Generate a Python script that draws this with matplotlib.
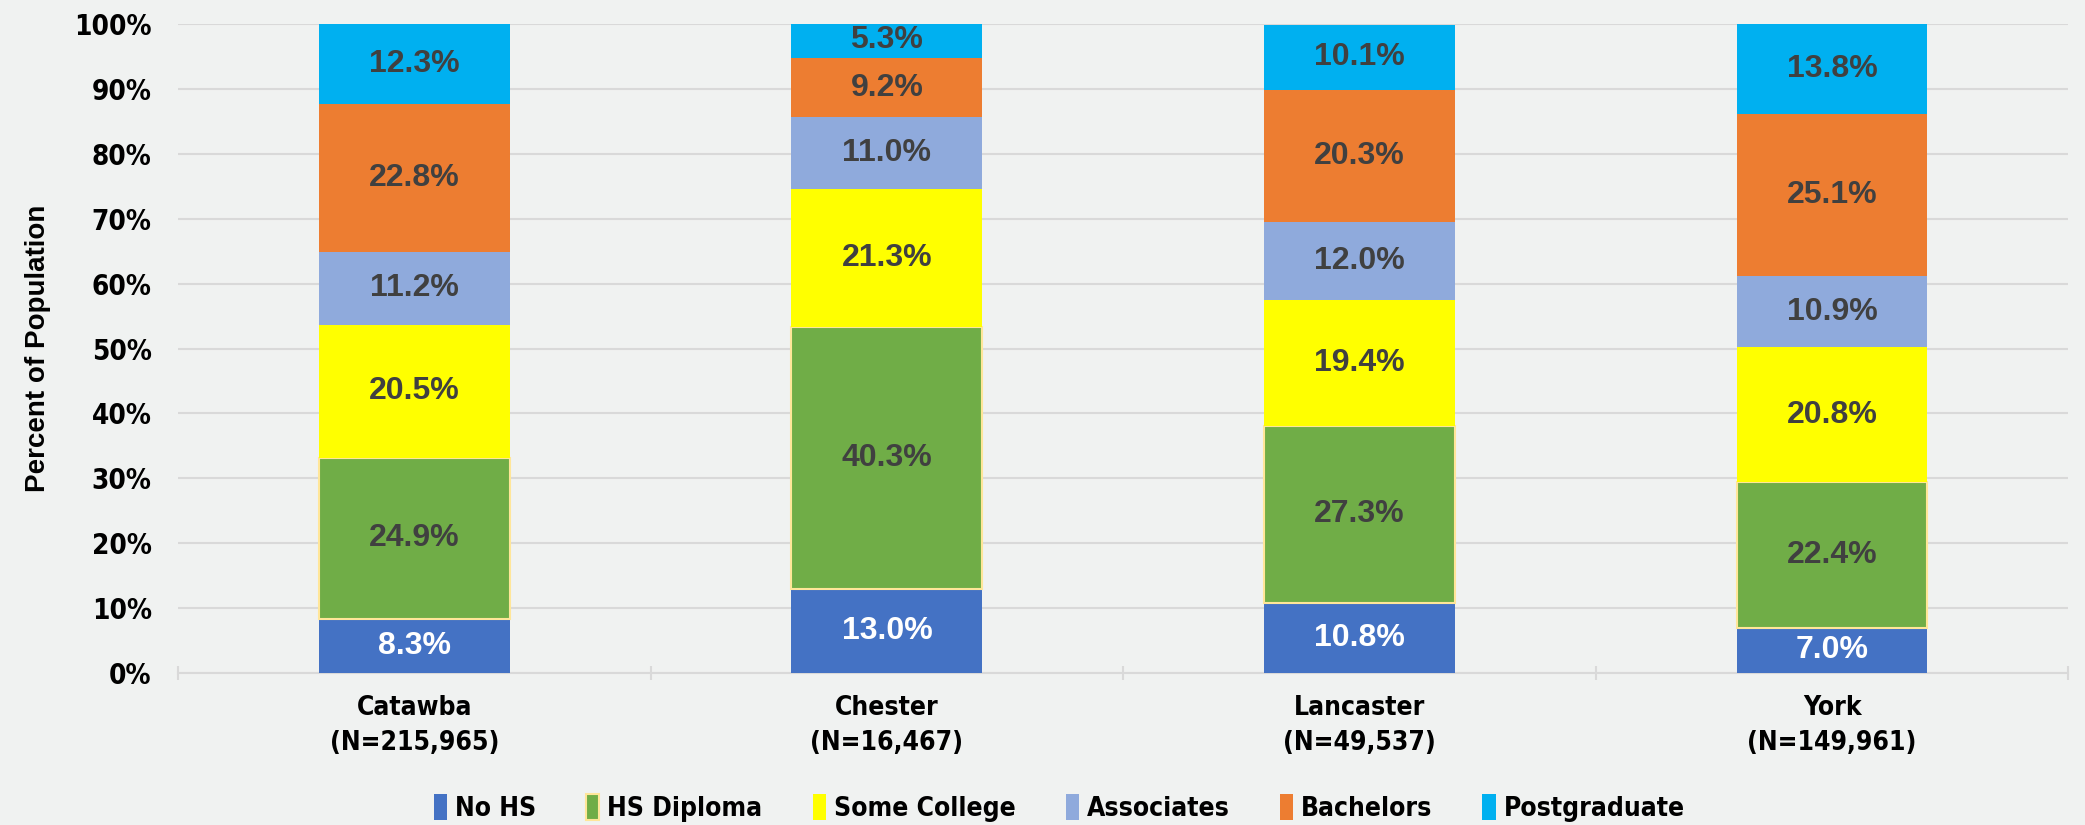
import matplotlib
matplotlib.use("Agg")
import matplotlib.pyplot as plt
import numpy as np

counties = ["Catawba\n(N=215,965)", "Chester\n(N=16,467)", "Lancaster\n(N=49,537)", "York\n(N=149,961)"]
series_names = ["No HS", "HS Diploma", "Some College", "Associates", "Bachelors", "Postgraduate"]
no_hs = [8.3, 13.0, 10.8, 7.0]
hs_diploma = [24.9, 40.3, 27.3, 22.4]
some_college = [20.5, 21.3, 19.4, 20.8]
associates = [11.2, 11.0, 12.0, 10.9]
bachelors = [22.8, 9.2, 20.3, 25.1]
postgraduate = [12.3, 5.3, 10.1, 13.8]
y_ticks = [0, 10, 20, 30, 40, 50, 60, 70, 80, 90, 100]

colors = ["#4472C4", "#70AD47", "#FFFF00", "#8FAADC", "#ED7D31", "#00B0F0"]
label_colors = ["white", "#404040", "#404040", "#404040", "#404040", "#404040"]
bg = "#F0F2F1"

cond_prop = dict(family="DejaVu Sans", weight="bold", stretch="condensed")

fig = plt.figure(figsize=(20.85, 8.25), dpi=100, facecolor=bg)
ax = fig.add_axes([0.0854, 0.184, 0.9066, 0.787], facecolor=bg)

data = [no_hs, hs_diploma, some_college, associates, bachelors, postgraduate]
x = np.arange(len(counties))
bottom = np.zeros(len(counties))
for name, vals, c, lc in zip(series_names, data, colors, label_colors):
    vals = np.array(vals)
    ec = "#FFE699" if name == "HS Diploma" else c
    lw = 1.5 if name == "HS Diploma" else 0
    ax.bar(x, vals, 0.404, bottom=bottom, color=c, edgecolor=ec, linewidth=lw,
           label=name, zorder=3)
    for xi, b, v in zip(x, bottom, vals):
        ax.text(xi, b + v / 2, f"{v:.1f}%", ha="center", va="center", fontsize=23,
                fontweight="bold", color=lc, fontfamily=["Liberation Sans", "DejaVu Sans"], zorder=4)
    bottom += vals

ax.set_xlim(-0.5, len(counties) - 0.5)
ax.set_ylim(0, 100)
ax.set_yticks(y_ticks)
ax.set_yticklabels([f"{t}%" for t in y_ticks], fontsize=20, **cond_prop)
ax.yaxis.grid(True, color="#D9D9D9", linewidth=1.5, zorder=0)
ax.tick_params(axis="y", length=0, pad=19)
ax.set_xticks(x)
ax.set_xticklabels(counties, fontsize=19, linespacing=1.45, **cond_prop)
ax.set_xticks(np.arange(-0.5, len(counties)), minor=True)
ax.tick_params(axis="x", which="major", length=0, pad=16)
ax.tick_params(axis="x", which="minor", length=10, color="#D9D9D9", width=1.5, direction="inout")
for s in ["top", "right", "left"]:
    ax.spines[s].set_visible(False)
ax.spines["bottom"].set_color("#D9D9D9")
ax.spines["bottom"].set_linewidth(1.5)
ax.set_ylabel("Percent of Population", fontsize=20, fontweight="bold",
              fontfamily=["Liberation Sans", "DejaVu Sans"])
ax.yaxis.set_label_coords(-0.067, 0.5)

leg = fig.legend(loc="lower center", bbox_to_anchor=(0.508, -0.025), ncol=6, frameon=False,
                 prop={"family": "DejaVu Sans", "weight": "bold", "stretch": "condensed", "size": 19},
                 handlelength=0.5, handleheight=1.1, handletextpad=0.3, columnspacing=1.9)

fig.savefig("out.png", dpi=100, facecolor=bg)
